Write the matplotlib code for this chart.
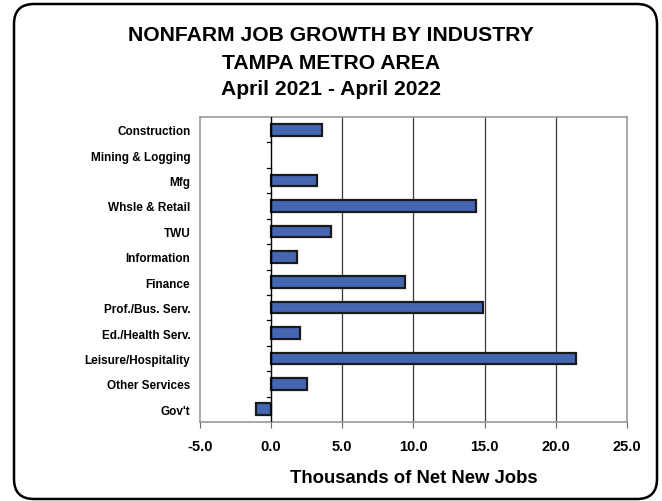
import matplotlib.pyplot as plt
from matplotlib.patches import FancyBboxPatch

plt.rcParams['font.family'] = ['Liberation Sans', 'DejaVu Sans']

categories = ["Construction", "Mining & Logging", "Mfg", "Whsle & Retail", "TWU",
              "Information", "Finance", "Prof./Bus. Serv.", "Ed./Health Serv.",
              "Leisure/Hospitality", "Other Services", "Gov't"]
jobs = [3.6, 0.0, 3.2, 14.4, 4.2, 1.8, 9.4, 14.9, 2.0, 21.4, 2.5, -1.1]
xticks = [-5.0, 0.0, 5.0, 10.0, 15.0, 20.0, 25.0]
title_lines = ["NONFARM JOB GROWTH BY INDUSTRY", "TAMPA METRO AREA", "April 2021 - April 2022"]
xlabel = "Thousands of Net New Jobs"

W, H = 662, 502
fig = plt.figure(figsize=(W / 100, H / 100), dpi=100)

# rounded outer frame
fx0, fy0, fx1, fy1 = 14, 5, 657, 500
frame = FancyBboxPatch((fx0 / W, 1 - fy1 / H), (fx1 - fx0) / W, (fy1 - fy0) / H,
                       boxstyle="round,pad=0,rounding_size=%f" % (20 / W),
                       transform=fig.transFigure, fill=False,
                       edgecolor='black', linewidth=1.8, zorder=0,
                       mutation_aspect=W / H)
fig.patches.append(frame)

ax = fig.add_axes([200 / W, 1 - 423 / H, 427 / W, 305 / H])

ypos = list(range(len(categories)))
# zero-valued categories get no outline so nothing shows for them
edge_widths = [1.6 if v != 0 else 0 for v in jobs]
ax.barh(ypos, jobs, height=0.46, color='#4466B3', edgecolor='#1a1a1a',
        linewidth=edge_widths, zorder=3)

ax.set_xlim(-5, 25)
ax.set_ylim(len(categories) - 0.5, -0.5)
ax.set_xticks(xticks)
ax.set_xticklabels([f"{v:.1f}" for v in xticks], fontsize=10.5, fontweight='bold')
ax.tick_params(axis='x', length=4, color='#666666', pad=8, direction='out')

ax.set_yticks(ypos)
ax.set_yticklabels(categories, fontsize=8.5, fontweight='bold')
ax.tick_params(axis='y', length=0, pad=7)
# category separators drawn as short ticks on the zero line
for b in range(1, len(categories)):
    ax.plot([-0.3, 0], [b - 0.5, b - 0.5], color='black', lw=0.9, zorder=4,
            clip_on=False)

for g in xticks[2:-1]:
    ax.axvline(g, color='#3a3a3a', lw=0.9, zorder=1)
ax.axvline(0, color='black', lw=1.0, zorder=4)

for s in ax.spines.values():
    s.set_color('#999999')
    s.set_linewidth(1.2)

ax.set_xlabel(xlabel, fontsize=13.3, fontweight='bold', labelpad=12)

for t, yb in zip(title_lines, [41, 69, 95]):
    fig.text(0.5, 1 - yb / H, t, ha='center', va='baseline',
             fontsize=15.2, fontweight='bold')

fig.savefig('out.png', dpi=100)
